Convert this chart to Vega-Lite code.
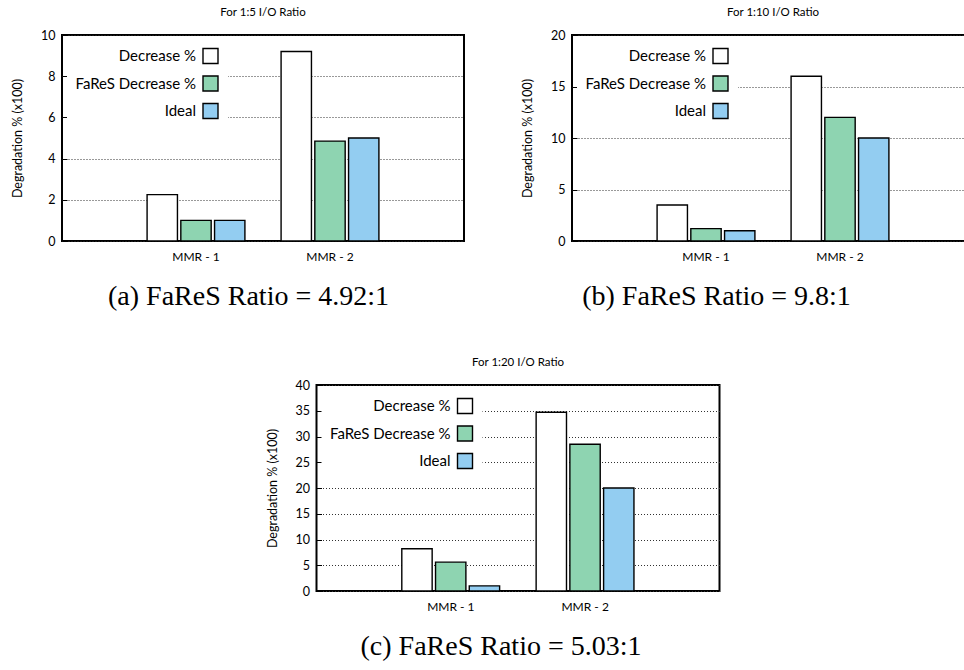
{
  "$schema": "https://vega.github.io/schema/vega-lite/v6.json",
  "padding": {"left": 10, "top": 5, "right": 0, "bottom": 0},
  "datasets": {
    "a": [
      {"group": "MMR - 1", "series": "Decrease %", "value": 2.25},
      {"group": "MMR - 1", "series": "FaReS Decrease %", "value": 1.0},
      {"group": "MMR - 1", "series": "Ideal", "value": 1.0},
      {"group": "MMR - 2", "series": "Decrease %", "value": 9.2},
      {"group": "MMR - 2", "series": "FaReS Decrease %", "value": 4.85},
      {"group": "MMR - 2", "series": "Ideal", "value": 5.0}
    ],
    "b": [
      {"group": "MMR - 1", "series": "Decrease %", "value": 3.5},
      {"group": "MMR - 1", "series": "FaReS Decrease %", "value": 1.2},
      {"group": "MMR - 1", "series": "Ideal", "value": 1.0},
      {"group": "MMR - 2", "series": "Decrease %", "value": 16.0},
      {"group": "MMR - 2", "series": "FaReS Decrease %", "value": 12.0},
      {"group": "MMR - 2", "series": "Ideal", "value": 10.0}
    ],
    "c": [
      {"group": "MMR - 1", "series": "Decrease %", "value": 8.2},
      {"group": "MMR - 1", "series": "FaReS Decrease %", "value": 5.6},
      {"group": "MMR - 1", "series": "Ideal", "value": 1.0},
      {"group": "MMR - 2", "series": "Decrease %", "value": 34.7},
      {"group": "MMR - 2", "series": "FaReS Decrease %", "value": 28.5},
      {"group": "MMR - 2", "series": "Ideal", "value": 20.0}
    ]
  },
  "config": {
    "font": "Lato",
    "view": {"stroke": "black", "strokeWidth": 2},
    "axis": {"domain": false, "labelFont": "Lato", "labelColor": "black", "titleFont": "Lato", "titleColor": "black", "titleFontWeight": "normal"},
    "axisY": {"grid": true, "gridDash": [1, 2], "gridColor": "#333", "gridWidth": 1, "tickSize": -5, "tickColor": "black", "labelPadding": 12, "labelFontSize": 12.5, "titleFontSize": 12.5, "titlePadding": 16},
    "axisX": {"grid": false, "ticks": false, "labelFontSize": 12, "labelPadding": 10, "labelAngle": 0, "titleFont": "Liberation Serif", "titleFontSize": 28, "titlePadding": 20, "titleAlign": "center"},
    "title": {"fontSize": 11.5, "fontWeight": "normal", "font": "Lato", "offset": 11, "frame": "group", "color": "black"},
    "legend": {
      "orient": "none", "legendX": 5, "legendY": 5.5, "direction": "vertical",
      "symbolOffset": 128,
      "labelAlign": "right", "labelOffset": -23, "labelFontSize": 15, "labelFont": "Lato", "labelColor": "black", "labelLimit": 300,
      "symbolType": "square", "symbolSize": 225, "symbolStrokeColor": "black", "symbolStrokeWidth": 1.3, "symbolOpacity": 1,
      "rowPadding": 6.5, "padding": 7, "fillColor": "white"
    },
    "bar": {"stroke": "black", "strokeWidth": 1.4}
  },
  "center": true,
  "spacing": 44,
  "vconcat": [
    {
      "spacing": 55,
      "hconcat": [
        {
          "title": "For 1:5 I/O Ratio",
          "width": 402, "height": 206,
          "data": {"name": "a"},
          "mark": {"type": "bar"},
          "encoding": {
            "x": {"field": "group", "type": "nominal", "scale": {"paddingInner": 0.27, "paddingOuter": 0.635}, "axis": {"title": "(a) FaReS Ratio = 4.92:1", "titleX": 186}},
            "xOffset": {"field": "series", "type": "nominal", "sort": ["Decrease %", "FaReS Decrease %", "Ideal"], "scale": {"paddingInner": 0.1, "paddingOuter": 0}},
            "y": {"field": "value", "type": "quantitative", "scale": {"domain": [0, 10], "nice": false}, "axis": {"title": "Degradation % (x100)", "values": [0, 2, 4, 6, 8, 10]}},
            "fill": {"field": "series", "type": "nominal", "scale": {"domain": ["Decrease %", "FaReS Decrease %", "Ideal"], "range": ["#ffffff", "#8ed4b1", "#93cdf1"]}, "legend": {"title": null}}
          }
        },
        {
          "title": "For 1:10 I/O Ratio",
          "width": 402, "height": 206,
          "data": {"name": "b"},
          "mark": {"type": "bar"},
          "encoding": {
            "x": {"field": "group", "type": "nominal", "scale": {"paddingInner": 0.27, "paddingOuter": 0.635}, "axis": {"title": "(b) FaReS Ratio = 9.8:1", "titleX": 144}},
            "xOffset": {"field": "series", "type": "nominal", "sort": ["Decrease %", "FaReS Decrease %", "Ideal"], "scale": {"paddingInner": 0.1, "paddingOuter": 0}},
            "y": {"field": "value", "type": "quantitative", "scale": {"domain": [0, 20], "nice": false}, "axis": {"title": "Degradation % (x100)", "values": [0, 5, 10, 15, 20]}},
            "fill": {"field": "series", "type": "nominal", "scale": {"domain": ["Decrease %", "FaReS Decrease %", "Ideal"], "range": ["#ffffff", "#8ed4b1", "#93cdf1"]}, "legend": {"title": null}}
          }
        }
      ],
      "resolve": {"scale": {"y": "independent", "fill": "independent"}, "legend": {"fill": "independent"}}
    },
    {
      "title": "For 1:20 I/O Ratio",
      "width": 403, "height": 206,
      "data": {"name": "c"},
      "mark": {"type": "bar"},
      "encoding": {
        "x": {"field": "group", "type": "nominal", "scale": {"paddingInner": 0.27, "paddingOuter": 0.635}, "axis": {"title": "(c) FaReS Ratio = 5.03:1", "titleX": 184}},
        "xOffset": {"field": "series", "type": "nominal", "sort": ["Decrease %", "FaReS Decrease %", "Ideal"], "scale": {"paddingInner": 0.1, "paddingOuter": 0}},
        "y": {"field": "value", "type": "quantitative", "scale": {"domain": [0, 40], "nice": false}, "axis": {"title": "Degradation % (x100)", "values": [0, 5, 10, 15, 20, 25, 30, 35, 40]}},
        "fill": {"field": "series", "type": "nominal", "scale": {"domain": ["Decrease %", "FaReS Decrease %", "Ideal"], "range": ["#ffffff", "#8ed4b1", "#93cdf1"]}, "legend": {"title": null}}
      }
    }
  ],
  "resolve": {"scale": {"y": "independent", "fill": "independent"}, "legend": {"fill": "independent"}}
}
